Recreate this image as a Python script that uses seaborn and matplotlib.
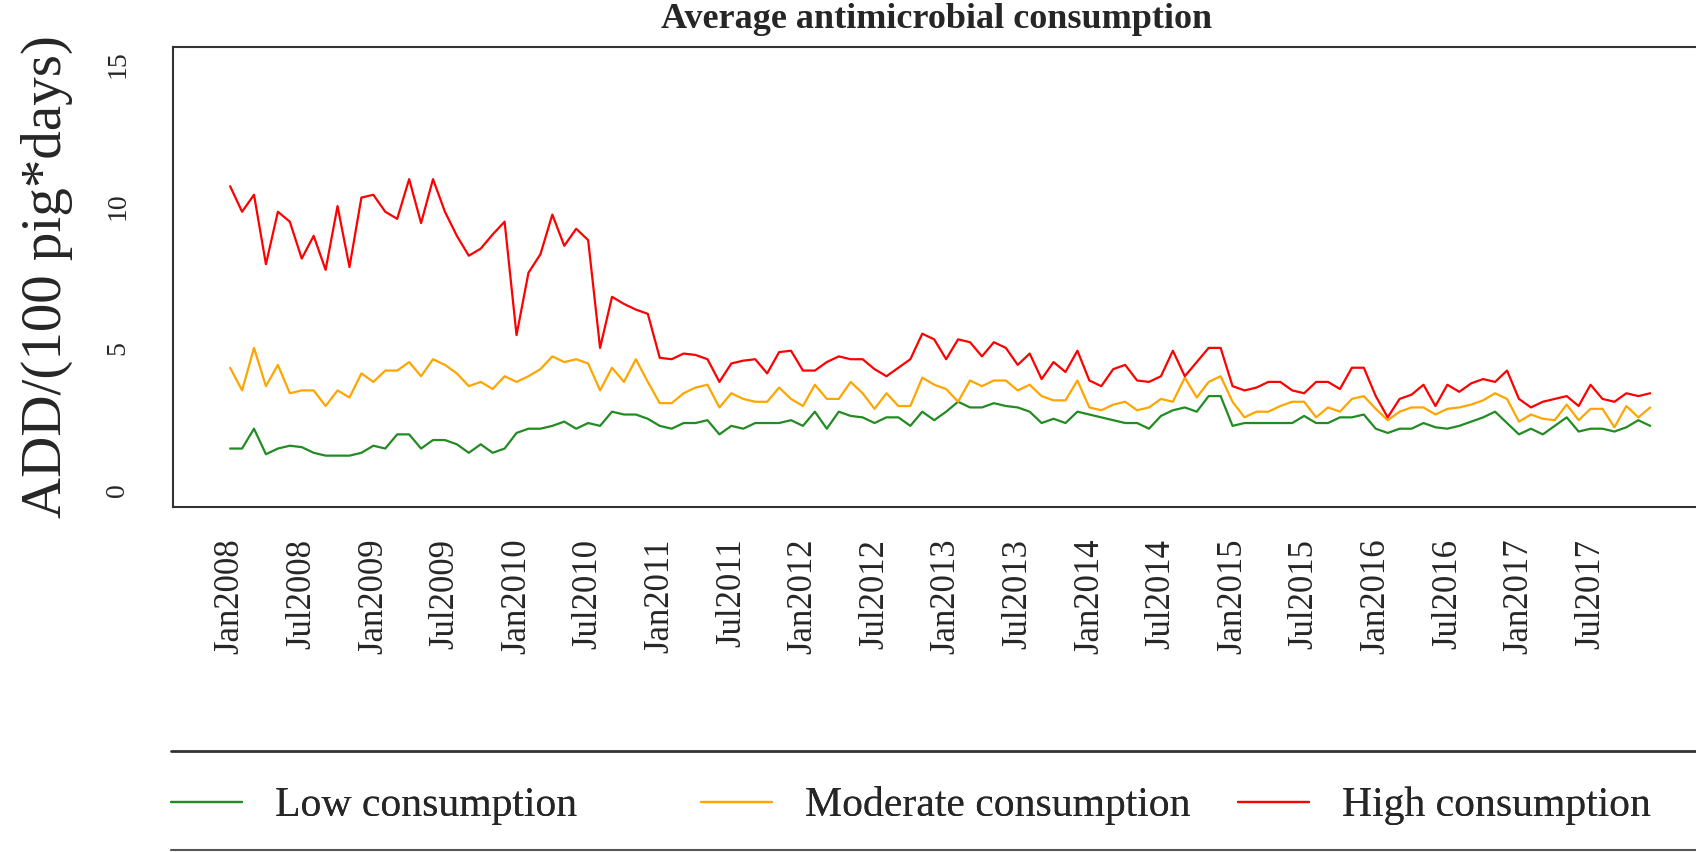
import numpy as np
import pandas as pd
import matplotlib
matplotlib.use("Agg")
import matplotlib.pyplot as plt
from matplotlib.lines import Line2D
import seaborn as sns

# monthly averages, Jan 2008 - Dec 2017
low = [1.45, 1.45, 2.15, 1.25, 1.45, 1.55, 1.5, 1.3, 1.2, 1.2, 1.2, 1.3,
       1.55, 1.45, 1.95, 1.95, 1.45, 1.75, 1.75, 1.6, 1.3, 1.6, 1.3, 1.45,
       2.0, 2.15, 2.15, 2.25, 2.4, 2.15, 2.35, 2.25, 2.75, 2.65, 2.65, 2.5,
       2.25, 2.15, 2.35, 2.35, 2.45, 1.95, 2.25, 2.15, 2.35, 2.35, 2.35, 2.45,
       2.25, 2.75, 2.15, 2.75, 2.6, 2.55, 2.35, 2.55, 2.55, 2.25, 2.75, 2.45,
       2.75, 3.1, 2.9, 2.9, 3.05, 2.95, 2.9, 2.75, 2.35, 2.5, 2.35, 2.75,
       2.65, 2.55, 2.45, 2.35, 2.35, 2.15, 2.6, 2.8, 2.9, 2.75, 3.3, 3.3,
       2.25, 2.35, 2.35, 2.35, 2.35, 2.35, 2.6, 2.35, 2.35, 2.55, 2.55, 2.65,
       2.15, 2.0, 2.15, 2.15, 2.35, 2.2, 2.15, 2.25, 2.4, 2.55, 2.75, 2.35,
       1.95, 2.15, 1.95, 2.25, 2.55, 2.05, 2.15, 2.15, 2.05, 2.2, 2.45, 2.25]

moderate = [4.3, 3.5, 5.0, 3.65, 4.4, 3.4, 3.5, 3.5, 2.95, 3.5, 3.25, 4.1,
            3.8, 4.2, 4.2, 4.5, 4.0, 4.6, 4.4, 4.1, 3.65, 3.8, 3.55, 4.0,
            3.8, 4.0, 4.25, 4.7, 4.5, 4.6, 4.45, 3.5, 4.3, 3.8, 4.6, 3.8,
            3.05, 3.05, 3.4, 3.6, 3.7, 2.9, 3.4, 3.2, 3.1, 3.1, 3.6, 3.2,
            2.95, 3.7, 3.2, 3.2, 3.8, 3.4, 2.85, 3.4, 2.95, 2.95, 3.95, 3.7,
            3.55, 3.1, 3.85, 3.65, 3.85, 3.85, 3.5, 3.7, 3.3, 3.15, 3.15, 3.85,
            2.9, 2.8, 3.0, 3.1, 2.8, 2.9, 3.2, 3.1, 3.95, 3.25, 3.8, 4.0,
            3.1, 2.55, 2.75, 2.75, 2.95, 3.1, 3.1, 2.55, 2.9, 2.75, 3.2, 3.3,
            2.85, 2.45, 2.75, 2.9, 2.9, 2.65, 2.85, 2.9, 3.0, 3.15, 3.4, 3.2,
            2.4, 2.65, 2.5, 2.45, 3.0, 2.45, 2.85, 2.85, 2.2, 2.95, 2.55, 2.9]

high = [10.7, 9.8, 10.4, 7.95, 9.8, 9.45, 8.15, 8.95, 7.75, 10.0, 7.85, 10.3,
        10.4, 9.8, 9.55, 10.95, 9.4, 10.95, 9.8, 8.95, 8.25, 8.5, 9.0, 9.45,
        5.45, 7.65, 8.3, 9.7, 8.6, 9.2, 8.8, 5.0, 6.8, 6.55, 6.35, 6.2,
        4.65, 4.6, 4.8, 4.75, 4.6, 3.8, 4.45, 4.55, 4.6, 4.1, 4.85, 4.9,
        4.2, 4.2, 4.5, 4.7, 4.6, 4.6, 4.25, 4.0, 4.3, 4.6, 5.5, 5.3,
        4.6, 5.3, 5.2, 4.7, 5.2, 5.0, 4.4, 4.8, 3.9, 4.5, 4.15, 4.9,
        3.85, 3.65, 4.25, 4.4, 3.85, 3.8, 4.0, 4.9, 4.0, 4.5, 5.0, 5.0,
        3.65, 3.5, 3.6, 3.8, 3.8, 3.5, 3.4, 3.8, 3.8, 3.55, 4.3, 4.3,
        3.3, 2.55, 3.2, 3.35, 3.7, 2.95, 3.7, 3.45, 3.75, 3.9, 3.8, 4.2,
        3.2, 2.9, 3.1, 3.2, 3.3, 2.95, 3.7, 3.2, 3.1, 3.4, 3.3, 3.4]

groups = ['Low consumption', 'Moderate consumption', 'High consumption']
colors = ['#228B22', '#FFA500', '#FF0000']
tick_labels = ['Jan2008', 'Jul2008', 'Jan2009', 'Jul2009', 'Jan2010', 'Jul2010',
               'Jan2011', 'Jul2011', 'Jan2012', 'Jul2012', 'Jan2013', 'Jul2013',
               'Jan2014', 'Jul2014', 'Jan2015', 'Jul2015', 'Jan2016', 'Jul2016',
               'Jan2017', 'Jul2017']

# long format for seaborn
month = np.arange(len(low))
df = pd.DataFrame({
    'month': np.tile(month, 3),
    'value': low + moderate + high,
    'group': np.repeat(groups, len(low)),
})

sns.set_style('white')
plt.rcParams['font.family'] = ['Liberation Serif', 'DejaVu Serif']

fig = plt.figure(figsize=(16.96, 8.52), dpi=100)
ax = fig.add_axes([0.1022, 0.4053, 0.9043, 0.5392])

sns.lineplot(data=df, x='month', y='value', hue='group', hue_order=groups,
             palette=dict(zip(groups, colors)), linewidth=1.6, ax=ax)
handles, labels = ax.get_legend_handles_labels()
ax.get_legend().remove()

ax.set_xlim(-4.76, 123.76)
ax.set_ylim(-0.6, 15.6)
ax.set_xticks(np.arange(0, len(low), 6))
ax.set_xticklabels(tick_labels, rotation=90, fontsize=25)
ax.set_yticks([0, 5, 10, 15])
ax.set_yticklabels(['0', '5', '10', '15'], rotation=90, va='center', fontsize=20)
ax.tick_params(axis='both', direction='out', length=13, width=1.4, color='#333333')
ax.tick_params(axis='x', pad=10)
ax.tick_params(axis='y', pad=18)
ax.set_xlabel('')
ax.set_ylabel('')
for side in ['left', 'bottom', 'top']:
    ax.spines[side].set_color('#333333')
    ax.spines[side].set_linewidth(1.5)
ax.spines['right'].set_visible(False)

fig.text(937 / 1696, 0.967, 'Average antimicrobial consumption', ha='center',
         va='baseline', fontsize=26, fontweight='bold')
fig.text(0.0277, 0.675, 'ADD/(100 pig*days)', rotation=90, ha='center',
         va='center', fontsize=41)

# legend, one entry per column like the original
legend_x = [171 / 1696, 701 / 1696, 1238 / 1696]
for h, lab, lx in zip(handles, labels, legend_x):
    lg = fig.legend([h], [lab], loc='center left', bbox_to_anchor=(lx, 0.054),
                    frameon=False, fontsize=30, handlelength=1.7,
                    handletextpad=0.8, borderpad=0, borderaxespad=0)
    fig.add_artist(lg)

fig.add_artist(Line2D([171 / 1696, 1], [0.1186, 0.1186], color='#333333', lw=2))
fig.add_artist(Line2D([171 / 1696, 1], [0.0018, 0.0018], color='#555555', lw=1.5))

fig.savefig('out.png', dpi=100)
